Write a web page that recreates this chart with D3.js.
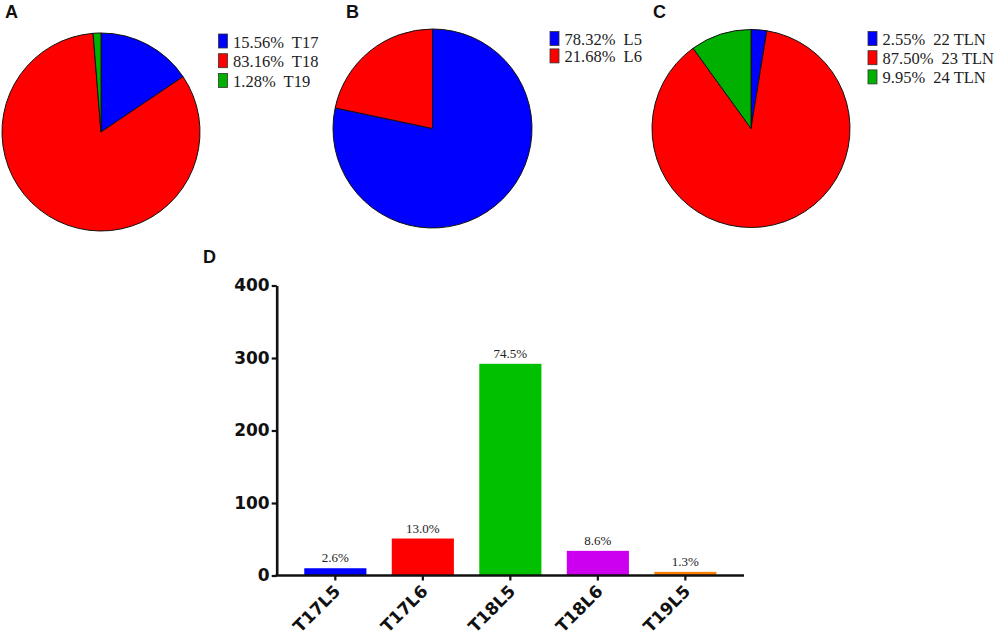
<!DOCTYPE html>
<html>
<head>
<meta charset="utf-8">
<script src="https://cdn.jsdelivr.net/npm/d3@7"></script>
<style>
  html, body { margin: 0; padding: 0; background: #fff; }
  svg { display: block; }
  .leg { font-family: "Liberation Serif", "Times New Roman", serif; font-size: 16.5px; fill: #222; white-space: pre; }
  .panel { font-family: "Liberation Sans", Arial, sans-serif; font-weight: bold; font-size: 18px; fill: #111; }
  .axis text { font-family: "DejaVu Sans", sans-serif; font-weight: bold; fill: #111; }
  .barlab { font-family: "Liberation Serif", "Times New Roman", serif; font-size: 13px; fill: #222; }
</style>
</head>
<body>
<script>
// ---------- data ----------
const pieALabels = ["T17", "T18", "T19"];
const pieAValues = [15.56, 83.16, 1.28];
const pieBLabels = ["L5", "L6"];
const pieBValues = [78.32, 21.68];
const pieCLabels = ["22 TLN", "23 TLN", "24 TLN"];
const pieCValues = [2.55, 87.50, 9.95];

const barCategories = ["T17L5", "T17L6", "T18L5", "T18L6", "T19L5"];
const barValues = [10, 51, 292, 34, 5];
const barPercentLabels = ["2.6%", "13.0%", "74.5%", "8.6%", "1.3%"];
const yTicks = [0, 100, 200, 300, 400];

// ---------- styles ----------
const pieColorsA = ["#0000ff", "#ff0000", "#00b000"];
const pieColorsB = ["#0000ff", "#ff0000"];
const pieColorsC = ["#0000ff", "#ff0000", "#00b000"];
const barColors = ["#0000ff", "#ff0000", "#00c000", "#cc00ee", "#ff8000"];

const W = 996, H = 640;
const svg = d3.select("body").append("svg").attr("width", W).attr("height", H);
svg.append("rect").attr("width", W).attr("height", H).attr("fill", "#fff");

function fmtPct(v) { return v.toFixed(2) + "%"; }

function drawPie(cfg) {
  const g = svg.append("g").attr("transform", `translate(${cfg.cx},${cfg.cy})`);
  const pie = d3.pie().sort(null).value(d => d.value);
  const arc = d3.arc().innerRadius(0).outerRadius(cfg.r);
  const data = cfg.labels.map((l, i) => ({ label: l, value: cfg.values[i] }));
  g.selectAll("path").data(pie(data)).join("path")
    .attr("d", arc)
    .attr("fill", (d, i) => cfg.colors[i])
    .attr("stroke", "#111")
    .attr("stroke-width", 1)
    .attr("stroke-linejoin", "round");

  const lg = svg.append("g").attr("transform", `translate(${cfg.lx},${cfg.ly})`);
  data.forEach((d, i) => {
    const y = i * cfg.rowH;
    lg.append("rect")
      .attr("x", 0.5).attr("y", y - 13.5)
      .attr("width", 9).attr("height", 14)
      .attr("fill", cfg.colors[i])
      .attr("stroke", "#333").attr("stroke-width", 0.8);
    lg.append("text").attr("class", "leg")
      .attr("x", 15).attr("y", y)
      .text(fmtPct(d.value) + "  " + d.label);
  });

  svg.append("text").attr("class", "panel")
    .attr("x", cfg.px).attr("y", cfg.py).text(cfg.panel);
}

drawPie({ cx: 101, cy: 132, r: 99, labels: pieALabels, values: pieAValues, colors: pieColorsA,
          lx: 218, ly: 47.5, rowH: 19.7, panel: "A", px: 5, py: 18 });
drawPie({ cx: 432.5, cy: 128.5, r: 99.5, labels: pieBLabels, values: pieBValues, colors: pieColorsB,
          lx: 549.5, ly: 45, rowH: 17.4, panel: "B", px: 346, py: 18 });
drawPie({ cx: 751, cy: 128.5, r: 99, labels: pieCLabels, values: pieCValues, colors: pieColorsC,
          lx: 867.5, ly: 45, rowH: 19.2, panel: "C", px: 653, py: 18 });

// ---------- bar chart D ----------
const axisX = 276.7, axisRight = 744;
const y = d3.scaleLinear().domain([0, 400]).range([575.5, 285.5]);
const x = d3.scaleBand().domain(barCategories).range([axisX, axisRight])
  .paddingInner(0.29).paddingOuter(0.315);

const gd = svg.append("g");
gd.selectAll("rect.bar").data(barValues).join("rect")
  .attr("class", "bar")
  .attr("x", (d, i) => x(barCategories[i]))
  .attr("width", x.bandwidth())
  .attr("y", d => y(d))
  .attr("height", d => y(0) - y(d))
  .attr("fill", (d, i) => barColors[i]);

gd.selectAll("text.barlab").data(barValues).join("text")
  .attr("class", "barlab")
  .attr("x", (d, i) => x(barCategories[i]) + x.bandwidth() / 2)
  .attr("y", d => y(d) - 6)
  .attr("text-anchor", "middle")
  .text((d, i) => barPercentLabels[i]);

// y axis
const yAxis = d3.axisLeft(y).tickValues(yTicks).tickSize(5).tickSizeOuter(0).tickPadding(2);
const gy = svg.append("g").attr("class", "axis").attr("transform", `translate(${axisX},0)`).call(yAxis);
gy.select(".domain").attr("stroke", "#111").attr("stroke-width", 2.6);
gy.selectAll(".tick line").attr("stroke", "#111").attr("stroke-width", 2.2);
gy.selectAll(".tick text").attr("font-size", 17);

// x axis
const xAxis = d3.axisBottom(x).tickSize(5).tickSizeOuter(0);
const gx = svg.append("g").attr("class", "axis").attr("transform", `translate(0,${y(0)})`).call(xAxis);
gx.select(".domain").attr("stroke", "#111").attr("stroke-width", 2.6)
  .attr("d", `M${axisX - 1.3},0H${axisRight}`);
gx.selectAll(".tick line").attr("stroke", "#111").attr("stroke-width", 2.2);
gx.selectAll(".tick text")
  .attr("font-size", 17)
  .attr("text-anchor", "end")
  .attr("dy", 0)
  .attr("y", 0)
  .attr("transform", "translate(6,17) rotate(-45)");

svg.append("text").attr("class", "panel").attr("x", 203).attr("y", 263).text("D");
</script>
</body>
</html>
